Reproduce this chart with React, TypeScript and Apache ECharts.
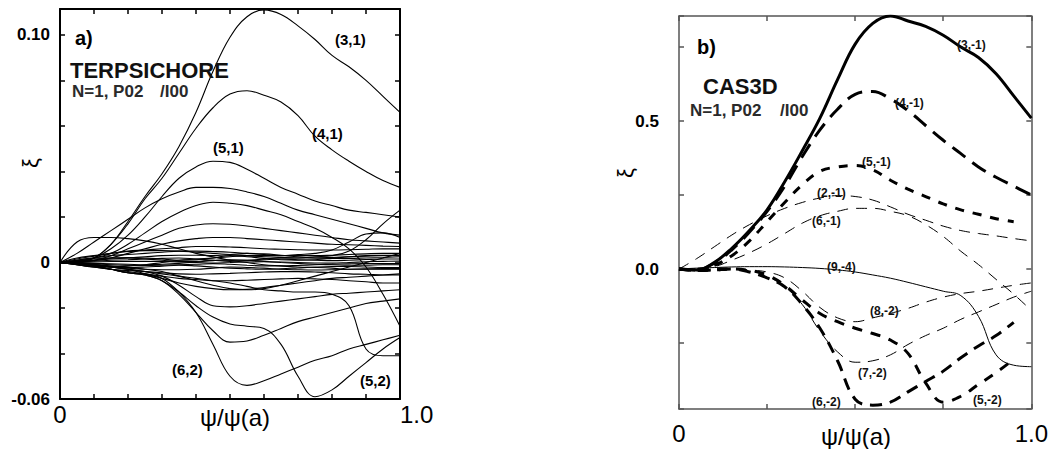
import React, { useEffect, useRef } from "react";
import * as echarts from "echarts";

// shared abscissa psi/psi(a)
const X = [0, 0.05, 0.1, 0.15, 0.2, 0.25, 0.3, 0.35, 0.4, 0.45, 0.5, 0.55, 0.6, 0.65, 0.7, 0.75, 0.8, 0.85, 0.9, 0.95, 1.0];

// ---------- panel a) TERPSICHORE ----------
const a31 = [0, 0.0005, 0.002, 0.008, 0.018, 0.029, 0.039, 0.051, 0.066, 0.084, 0.099, 0.108, 0.111, 0.109, 0.104, 0.098, 0.091, 0.086, 0.08, 0.073, 0.066];
const a41 = [0, 0.0005, 0.002, 0.008, 0.017, 0.028, 0.037, 0.048, 0.059, 0.068, 0.074, 0.0755, 0.0735, 0.0705, 0.0645, 0.0555, 0.0495, 0.0445, 0.04, 0.036, 0.033];
const a51 = [0, 0.0003, 0.002, 0.006, 0.012, 0.02, 0.029, 0.037, 0.042, 0.0445, 0.044, 0.041, 0.037, 0.033, 0.03, 0.027, 0.025, 0.023, 0.022, 0.021, 0.02];
const aEarly = [0, 0.004, 0.009, 0.014, 0.019, 0.024, 0.028, 0.031, 0.033, 0.033, 0.0325, 0.031, 0.029, 0.026, 0.023, 0.021, 0.019, 0.017, 0.015, 0.013, 0.012];
const aDiag = [0, 0.0005, 0.002, 0.004, 0.008, 0.013, 0.018, 0.022, 0.025, 0.0265, 0.026, 0.025, 0.023, 0.021, 0.018, 0.015, 0.011, 0.006, -0.002, -0.014, -0.028];
const aP17 = [0, 0.0003, 0.001, 0.003, 0.006, 0.009, 0.012, 0.015, 0.0165, 0.017, 0.0168, 0.016, 0.015, 0.014, 0.013, 0.012, 0.011, 0.01, 0.0095, 0.009, 0.0085];
const aP11 = [0, 0.0002, 0.0008, 0.002, 0.004, 0.006, 0.008, 0.0095, 0.0105, 0.011, 0.011, 0.0105, 0.01, 0.0095, 0.009, 0.0085, 0.008, 0.0078, 0.0075, 0.0072, 0.007];
const aBump = [0, 0.009, 0.011, 0.011, 0.0105, 0.0095, 0.008, 0.006, 0.004, 0.0025, 0.001, 0, -0.001, -0.0015, -0.002, -0.0022, -0.0025, -0.003, -0.003, -0.003, -0.003];
const aCurl1 = [0, 0.001, 0.002, 0.002, 0.002, 0.0015, 0.001, 0.0005, 0.0005, 0.001, 0.001, 0.001, 0.0015, 0.002, 0.002, 0.0025, 0.003, 0.005, 0.01, 0.017, 0.023];
const aCurl2 = [0, -0.001, -0.002, -0.002, -0.0015, -0.001, 0, 0.001, 0.0015, 0.002, 0.0025, 0.003, 0.003, 0.003, 0.0035, 0.004, 0.0055, 0.009, 0.0125, 0.013, 0.011];
const a62 = [0, -0.0005, -0.0015, -0.003, -0.0045, -0.005, -0.007, -0.013, -0.022, -0.036, -0.05, -0.054, -0.052, -0.049, -0.046, -0.043, -0.041, -0.038, -0.036, -0.034, -0.032];
const aM35 = [0, -0.0005, -0.0015, -0.003, -0.0045, -0.0055, -0.008, -0.014, -0.022, -0.03, -0.035, -0.0345, -0.032, -0.029, -0.026, -0.024, -0.022, -0.02, -0.018, -0.017, -0.016];
const a52 = [0, -0.0005, -0.0015, -0.003, -0.0045, -0.0055, -0.008, -0.013, -0.019, -0.024, -0.027, -0.028, -0.029, -0.036, -0.05, -0.059, -0.056, -0.05, -0.044, -0.038, -0.033];
const aM20 = [0, -0.0003, -0.001, -0.002, -0.003, -0.004, -0.006, -0.01, -0.015, -0.019, -0.0195, -0.019, -0.018, -0.017, -0.016, -0.015, -0.014, -0.0135, -0.013, -0.0125, -0.012];
const aStep = [0, -0.0003, -0.001, -0.002, -0.003, -0.004, -0.005, -0.006, -0.007, -0.008, -0.009, -0.0105, -0.012, -0.0125, -0.013, -0.013, -0.014, -0.019, -0.038, -0.041, -0.041];
const aM12 = [0, -0.0005, -0.001, -0.002, -0.003, -0.005, -0.007, -0.009, -0.0105, -0.0115, -0.012, -0.0118, -0.011, -0.01, -0.009, -0.008, -0.007, -0.0065, -0.006, -0.0055, -0.005];
const aM8 = [0, -0.001, -0.002, -0.003, -0.004, -0.005, -0.006, -0.007, -0.0075, -0.008, -0.008, -0.0078, -0.0075, -0.0072, -0.007, -0.0072, -0.0075, -0.008, -0.0085, -0.009, -0.009];
const aRise = [0, -0.0005, -0.001, -0.0015, -0.002, -0.003, -0.004, -0.006, -0.008, -0.01, -0.0115, -0.012, -0.0115, -0.01, -0.008, -0.006, -0.004, -0.002, 0, 0.002, 0.004];
const aB1 = [0, 0.002, 0.003, 0.004, 0.005, 0.0055, 0.006, 0.0065, 0.007, 0.007, 0.0068, 0.0065, 0.006, 0.0058, 0.0056, 0.0055, 0.0055, 0.0056, 0.0058, 0.006, 0.006];
const aB2 = [0, 0.001, 0.002, 0.003, 0.0035, 0.004, 0.0045, 0.005, 0.005, 0.0048, 0.0045, 0.004, 0.0035, 0.003, 0.003, 0.003, 0.0032, 0.0035, 0.0038, 0.004, 0.004];
const aB3 = [0, 0.0005, 0.001, 0.0015, 0.002, 0.0025, 0.003, 0.0032, 0.0032, 0.003, 0.0035, 0.004, 0.0038, 0.0032, 0.0025, 0.002, 0.0018, 0.0018, 0.002, 0.0022, 0.0025];
const aB4 = [0, 0.0003, 0.0006, 0.001, 0.0012, 0.0015, 0.0018, 0.002, 0.0015, 0.001, 0.0005, 0.0008, 0.0012, 0.0015, 0.0012, 0.001, 0.0008, 0.001, 0.0013, 0.0015, 0.0015];
const aB5 = [0, 0, 0.0002, 0.0004, 0.0005, 0.0005, 0.0004, 0.0002, 0, -0.0002, 0, 0.0002, 0.0003, 0.0002, 0, -0.0002, -0.0003, 0, 0.0003, 0.0005, 0.0006];
const aB6 = [0, -0.0003, -0.0006, -0.001, -0.0012, -0.0013, -0.0012, -0.001, -0.0008, -0.0005, -0.0008, -0.0012, -0.0015, -0.0015, -0.0013, -0.001, -0.0008, -0.0006, -0.0005, -0.0005, -0.0005];
const aB7 = [0, -0.0005, -0.001, -0.0018, -0.0025, -0.003, -0.0032, -0.0032, -0.003, -0.0025, -0.002, -0.0022, -0.0025, -0.003, -0.0032, -0.0033, -0.0032, -0.003, -0.0028, -0.0027, -0.0027];
const aB8 = [0, -0.001, -0.002, -0.003, -0.0035, -0.004, -0.0045, -0.005, -0.0052, -0.005, -0.0048, -0.0045, -0.0042, -0.004, -0.004, -0.0042, -0.0045, -0.005, -0.0052, -0.0055, -0.0055];
const aB9 = [0, 0.0008, 0.0015, 0.002, 0.0022, 0.002, 0.0015, 0.001, 0.0012, 0.002, 0.003, 0.0025, 0.0018, 0.0012, 0.001, 0.0012, 0.0018, 0.0025, 0.003, 0.0032, 0.0032];
const aB10 = [0, -0.0002, -0.0004, -0.0006, -0.0008, -0.001, -0.0008, -0.0004, 0.0002, 0.0008, 0.0012, 0.001, 0.0005, 0, -0.0004, -0.0008, -0.001, -0.0012, -0.0012, -0.001, -0.001];
const aB11 = [0, 0.0015, 0.0028, 0.004, 0.0048, 0.0052, 0.0052, 0.005, 0.0045, 0.004, 0.0035, 0.003, 0.0025, 0.0022, 0.002, 0.002, 0.0022, 0.0025, 0.0028, 0.003, 0.003];
const aB12 = [0, -0.0008, -0.0015, -0.002, -0.0022, -0.002, -0.0016, -0.0012, -0.0015, -0.002, -0.0025, -0.0028, -0.003, -0.0028, -0.0024, -0.002, -0.0018, -0.0018, -0.002, -0.0022, -0.0022];

const panelACurves = [a31, a41, a51, aEarly, aDiag, aP17, aP11, aBump, aCurl1, aCurl2, a62, aM35, a52, aM20, aStep, aM12, aM8, aRise, aB1, aB2, aB3, aB4, aB5, aB6, aB7, aB8, aB9, aB10, aB11, aB12];

// ---------- panel b) CAS3D ----------
const b31 = [0, -0.003, 0.022, 0.07, 0.13, 0.2, 0.295, 0.4, 0.51, 0.64, 0.76, 0.83, 0.855, 0.838, 0.82, 0.79, 0.75, 0.715, 0.66, 0.585, 0.51];
const b41 = [0, -0.003, 0.02, 0.065, 0.125, 0.195, 0.28, 0.38, 0.47, 0.54, 0.59, 0.6, 0.575, 0.535, 0.485, 0.435, 0.39, 0.345, 0.31, 0.28, 0.25];
const b51 = [0, -0.003, 0.012, 0.045, 0.095, 0.16, 0.225, 0.285, 0.33, 0.345, 0.35, 0.335, 0.3, 0.27, 0.245, 0.22, 0.2, 0.185, 0.17, 0.16, null];
const b21 = [0, 0.035, 0.075, 0.115, 0.15, 0.18, 0.205, 0.225, 0.24, 0.248, 0.245, 0.233, 0.21, 0.185, 0.165, 0.145, 0.13, 0.12, 0.112, 0.103, 0.095];
const b61 = [0, 0.002, 0.008, 0.03, 0.055, 0.085, 0.12, 0.155, 0.18, 0.195, 0.205, 0.205, 0.195, 0.18, 0.15, 0.11, 0.06, 0.015, -0.035, -0.085, -0.14];
const b94 = [0, 0.003, 0.005, 0.007, 0.008, 0.008, 0.007, 0.005, 0.002, -0.003, -0.01, -0.02, -0.031, -0.045, -0.06, -0.075, -0.09, -0.16, -0.29, -0.325, -0.33];
const b82 = [0, 0.002, 0.003, 0.002, -0.003, -0.01, -0.03, -0.075, -0.13, -0.165, -0.178, -0.165, -0.15, -0.133, -0.112, -0.095, -0.083, -0.075, -0.065, -0.055, -0.047];
const b72 = [0, 0.002, 0.003, 0.002, -0.005, -0.025, -0.06, -0.12, -0.21, -0.28, -0.315, -0.31, -0.29, -0.255, -0.225, -0.2, -0.17, -0.145, -0.12, -0.095, -0.075];
const b62 = [0, -0.005, -0.003, 0, -0.01, -0.03, -0.06, -0.12, -0.2, -0.31, -0.44, -0.46, -0.45, -0.415, -0.38, -0.345, -0.3, -0.26, -0.225, -0.18, null];
const b52 = [0, -0.005, -0.003, 0, -0.005, -0.02, -0.055, -0.105, -0.15, -0.178, -0.2, -0.218, -0.24, -0.285, -0.385, -0.45, -0.43, -0.39, -0.35, -0.305, null];

const panelBCurves = [b31, b41, b51, b21, b61, b94, b82, b72, b62, b52];
// line styles for the panel b curves (same order)
const panelBStyles = [
  { width: 3, dash: "solid" },
  { width: 3, dash: [16, 9] },
  { width: 3, dash: [9, 9] },
  { width: 1, dash: [11, 8] },
  { width: 1, dash: [11, 8] },
  { width: 1, dash: "solid" },
  { width: 1, dash: [11, 8] },
  { width: 1, dash: [11, 8] },
  { width: 3, dash: [12, 8] },
  { width: 3, dash: [10, 9] },
];

// tick labels
const aXTickLabels: [number, string][] = [[0, "0"], [1, "1.0"]];
const aYTickLabels: [number, string][] = [[-0.06, "-0.06"], [0, "0"], [0.1, "0.10"]];
const bXTickLabels: [number, string][] = [[0, "0"], [1, "1.0"]];
const bYTickLabels: [number, string][] = [[0, "0.0"], [0.5, "0.5"]];

// annotations
const aCurveLabels: [string, number, number][] = [
  ["(3,1)", 335, 39], ["(4,1)", 312, 133], ["(5,1)", 213, 147], ["(6,2)", 172, 369], ["(5,2)", 360, 380],
];
const bCurveLabels: [string, number, number][] = [
  ["(3,-1)", 957, 45], ["(4,-1)", 895, 103], ["(5,-1)", 862, 162], ["(2,-1)", 817, 193], ["(6,-1)", 812, 221],
  ["(9,-4)", 827, 267], ["(8,-2)", 870, 311], ["(7,-2)", 858, 373], ["(6,-2)", 812, 402], ["(5,-2)", 973, 400],
];

const FONT = "'Liberation Sans', Arial, Helvetica, sans-serif";

function fmt(ticks: [number, string][]) {
  return (v: number) => {
    const t = ticks.find(([p]) => Math.abs(p - v) < 1e-6);
    return t ? t[1] : "";
  };
}

function pairs(ys: (number | null)[]) {
  return ys.map((y, i) => [X[i], y]).filter((p) => p[1] !== null);
}

function txt(text: string, x: number, y: number, size: number, opts: any = {}) {
  return {
    type: "text",
    x,
    y,
    rotation: opts.rotation || 0,
    z: 100,
    style: {
      text,
      fill: opts.fill || "#000",
      font: `${opts.weight || "bold"} ${size}px ${FONT}`,
      align: opts.align || "left",
      verticalAlign: "middle",
    },
  };
}

export default function App() {
  const ref = useRef<HTMLDivElement>(null);
  useEffect(() => {
    if (!ref.current) return;
    const chart = echarts.init(ref.current, undefined, { renderer: "svg" });

    const axA = { color: "#000", width: 2 };
    const axB = { color: "#555", width: 1.5 };

    const xAx = (grid: number, interval: number, pos: string, line: any, labels: any) => ({
      gridIndex: grid,
      type: "value",
      min: 0,
      max: 1,
      interval,
      position: pos,
      axisLine: { show: true, onZero: false, lineStyle: line },
      axisTick: { show: true, inside: true, length: 5, lineStyle: { color: line.color, width: 1.5 } },
      splitLine: { show: false },
      axisLabel: labels,
    });

    const option: any = {
      animation: false,
      backgroundColor: "#fff",
      grid: [
        { left: 60, top: 9, width: 340, height: 390 },
        { left: 679, top: 16, width: 354, height: 393 },
      ],
      xAxis: [
        xAx(0, 0.1, "bottom", axA, {
          show: true, formatter: fmt(aXTickLabels), margin: 3, fontSize: 24, color: "#000",
          fontFamily: FONT, alignMaxLabel: "left",
        }),
        xAx(0, 0.1, "top", axA, { show: false }),
        xAx(1, 0.25, "bottom", axB, {
          show: true, formatter: fmt(bXTickLabels), margin: 12, fontSize: 24, color: "#000", fontFamily: FONT,
        }),
        xAx(1, 0.25, "top", axB, { show: false }),
      ],
      yAxis: [
        {
          gridIndex: 0, type: "value", min: -0.06, max: 0.1114, interval: 0.02, position: "left",
          axisLine: { show: true, onZero: false, lineStyle: axA },
          axisTick: { show: true, inside: true, length: 5, lineStyle: { color: "#000", width: 1.5 } },
          splitLine: { show: false },
          axisLabel: { formatter: fmt(aYTickLabels), margin: 10, fontSize: 17, fontWeight: "bold", color: "#000", fontFamily: FONT },
        },
        {
          gridIndex: 0, type: "value", min: -0.06, max: 0.1114, interval: 0.02, position: "right",
          axisLine: { show: true, onZero: false, lineStyle: axA },
          axisTick: { show: true, inside: true, length: 5, lineStyle: { color: "#000", width: 1.5 } },
          splitLine: { show: false },
          axisLabel: { show: false },
        },
        {
          gridIndex: 1, type: "value", min: -0.473, max: 0.855, minInterval: 0.25, maxInterval: 0.25, position: "left",
          axisLine: { show: true, onZero: false, lineStyle: axB },
          axisTick: { show: true, inside: true, length: 5, lineStyle: { color: "#555", width: 1.5 } },
          splitLine: { show: false },
          axisLabel: { formatter: fmt(bYTickLabels), margin: 20, fontSize: 17, fontWeight: "bold", color: "#000", fontFamily: FONT },
        },
        {
          gridIndex: 1, type: "value", min: -0.473, max: 0.855, minInterval: 0.25, maxInterval: 0.25, position: "right",
          axisLine: { show: true, onZero: false, lineStyle: axB },
          axisTick: { show: true, inside: true, length: 5, lineStyle: { color: "#555", width: 1.5 } },
          splitLine: { show: false },
          axisLabel: { show: false },
        },
      ],
      series: [
        ...panelACurves.map((ys) => ({
          type: "line",
          xAxisIndex: 0,
          yAxisIndex: 0,
          data: pairs(ys),
          smooth: 0.4,
          symbol: "none",
          clip: true,
          lineStyle: { color: "#000", width: 1.1 },
        })),
        ...panelBCurves.map((ys, i) => ({
          type: "line",
          xAxisIndex: 2,
          yAxisIndex: 2,
          data: pairs(ys),
          smooth: 0.4,
          symbol: "none",
          clip: true,
          lineStyle: { color: "#000", width: panelBStyles[i].width, type: panelBStyles[i].dash },
        })),
      ],
      graphic: [
        // panel a
        txt("a)", 75, 38, 20),
        txt("TERPSICHORE", 70, 70, 22, { fill: "#111" }),
        txt("N=1, P02", 72, 91, 17, { fill: "#2a2a2a" }),
        txt("/I00", 160, 91, 17, { fill: "#2a2a2a" }),
        txt("ξ", 30, 163, 22, { weight: "normal", align: "center", rotation: Math.PI / 2 }),
        txt("ψ/ψ(a)", 235, 417, 24, { weight: "normal", align: "center" }),
        ...aCurveLabels.map(([t, x, y]) => txt(t, x, y, 15)),
        // panel b
        txt("b)", 697, 47, 20),
        txt("CAS3D", 703, 86, 22, { fill: "#111" }),
        txt("N=1, P02", 690, 110, 17, { fill: "#2a2a2a" }),
        txt("/I00", 780, 110, 17, { fill: "#2a2a2a" }),
        txt("ξ", 625, 173, 22, { weight: "normal", align: "center", rotation: Math.PI / 2 }),
        txt("ψ/ψ(a)", 856, 436, 24, { weight: "normal", align: "center" }),
        ...bCurveLabels.map(([t, x, y]) => txt(t, x, y, 12, { fill: "#111" })),
      ],
    };
    chart.setOption(option);
    return () => chart.dispose();
  }, []);
  return <div ref={ref} style={{ position: "fixed", left: 0, top: 0, width: 1051, height: 449, background: "#fff" }} />;
}
